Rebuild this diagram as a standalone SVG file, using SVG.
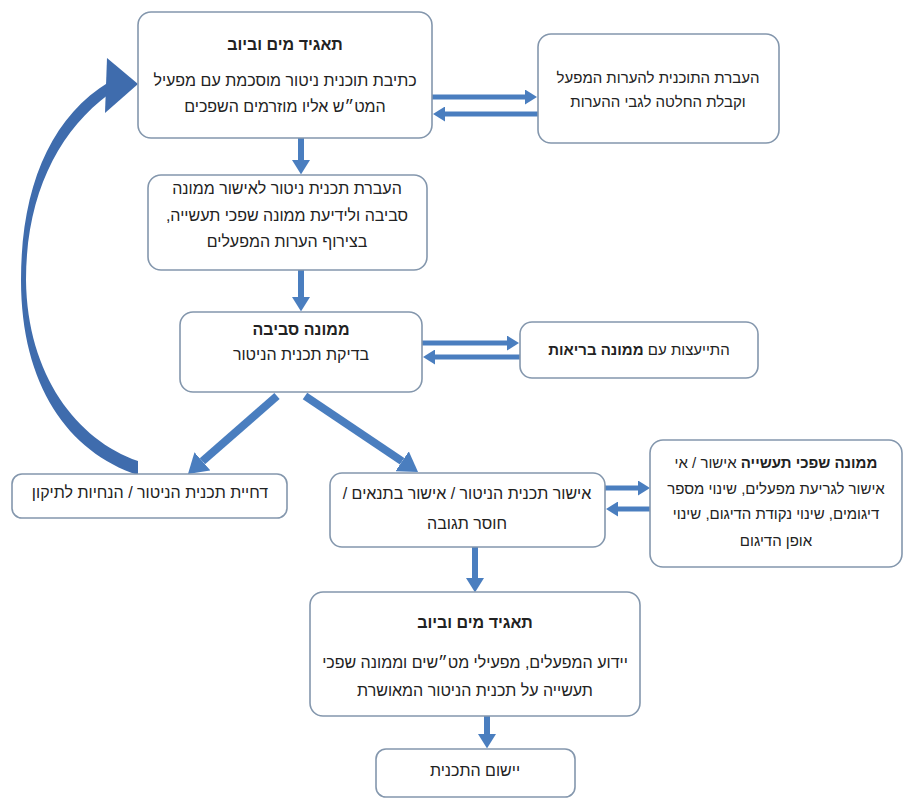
<svg xmlns="http://www.w3.org/2000/svg" width="906" height="800" viewBox="0 0 906 800">
<style>
.box{fill:#ffffff;stroke:#8497ad;stroke-width:1.6}
text{font-family:"Liberation Sans","DejaVu Sans",sans-serif;font-size:16px;fill:#222;text-anchor:middle}
.s{font-size:15px}
.t{font-weight:bold}
.b{font-weight:bold}
.arr{stroke:#4a7ebf;fill:none}
</style>
<defs>
<marker id="ah" viewBox="0 0 10 10" refX="0" refY="5" markerWidth="2.4" markerHeight="3" preserveAspectRatio="none" orient="auto">
<path d="M0,0 L10,5 L0,10 z" fill="#4a7ebf"/>
</marker>
</defs>
<g id="connectors">
<line class="arr" stroke-width="6" x1="301" y1="138" x2="301" y2="160" marker-end="url(#ah)"/>
<line class="arr" stroke-width="6" x1="301" y1="270" x2="301" y2="297" marker-end="url(#ah)"/>
<line class="arr" stroke-width="6" x1="475" y1="547" x2="475" y2="578" marker-end="url(#ah)"/>
<line class="arr" stroke-width="6" x1="487" y1="716" x2="487" y2="734" marker-end="url(#ah)"/>
<line class="arr" stroke-width="5" x1="432" y1="97" x2="525" y2="97" marker-end="url(#ah)"/>
<line class="arr" stroke-width="5" x1="538" y1="114" x2="445" y2="114" marker-end="url(#ah)"/>
<line class="arr" stroke-width="5" x1="422" y1="343" x2="507" y2="343" marker-end="url(#ah)"/>
<line class="arr" stroke-width="5" x1="520" y1="357" x2="435" y2="357" marker-end="url(#ah)"/>
<line class="arr" stroke-width="5" x1="605" y1="488" x2="638" y2="488" marker-end="url(#ah)"/>
<line class="arr" stroke-width="5" x1="650" y1="509" x2="618" y2="509" marker-end="url(#ah)"/>
<line class="arr" stroke-width="8" x1="277" y1="396" x2="202.4" y2="461.3" marker-end="url(#ah)"/>
<line class="arr" stroke-width="8" x1="305" y1="396" x2="402.1" y2="461.3" marker-end="url(#ah)"/>
<path d="M109,82 C50,118 21,188 21,280 C21,385 68,452 138,475 L138,461 C77,440 27,375 26,280 C26,195 58,132 109,94 Z" fill="#3f6cad"/>
<path d="M107,58 L138,84 L105,113 Z" fill="#3f6cad"/>
</g>
<g id="n1">
<rect class="box" x="138" y="12" width="294" height="126" rx="13"/>
<text class="t" x="285" y="50" direction="rtl">תאגיד מים וביוב</text>
<text x="285" y="86" direction="rtl">כתיבת תוכנית ניטור מוסכמת עם מפעיל</text>
<text x="285" y="112" direction="rtl">המט״ש אליו מוזרמים השפכים</text>
</g>
<g id="n2">
<rect class="box" x="538" y="34" width="241" height="109" rx="13"/>
<text class="s" x="658" y="83" direction="rtl">העברת התוכנית להערות המפעל</text>
<text class="s" x="658" y="107" direction="rtl">וקבלת החלטה לגבי ההערות</text>
</g>
<g id="n3">
<rect class="box" x="148" y="175" width="279" height="95" rx="13"/>
<text x="287" y="194" direction="rtl">העברת תכנית ניטור לאישור ממונה</text>
<text x="287" y="221" direction="rtl">סביבה ולידיעת ממונה שפכי תעשייה,</text>
<text x="287" y="247" direction="rtl">בצירוף הערות המפעלים</text>
</g>
<g id="n4">
<rect class="box" x="180" y="312" width="242" height="80" rx="13"/>
<text class="t" x="301" y="335" direction="rtl">ממונה סביבה</text>
<text x="301" y="360" direction="rtl">בדיקת תכנית הניטור</text>
</g>
<g id="n5">
<rect class="box" x="520" y="322" width="238" height="56" rx="12"/>
<text class="s" x="639" y="355" direction="rtl">התייעצות עם <tspan class="b">ממונה בריאות</tspan></text>
</g>
<g id="n6">
<rect class="box" x="12" y="474" width="275" height="44" rx="10"/>
<text x="150" y="498" direction="rtl">דחיית תכנית הניטור / הנחיות לתיקון</text>
</g>
<g id="n7">
<rect class="box" x="330" y="473" width="275" height="74" rx="12"/>
<text x="467" y="499" direction="rtl">אישור תכנית הניטור / אישור בתנאים /</text>
<text x="467" y="529" direction="rtl">חוסר תגובה</text>
</g>
<g id="n8">
<rect class="box" x="650" y="440" width="252" height="127" rx="13"/>
<text class="s" x="776" y="468" direction="rtl"><tspan class="b">ממונה שפכי תעשייה</tspan>  אישור / אי</text>
<text class="s" x="776" y="494" direction="rtl">אישור לגריעת מפעלים, שינוי מספר</text>
<text class="s" x="776" y="519" direction="rtl">דיגומים, שינוי נקודת הדיגום, שינוי</text>
<text class="s" x="776" y="546" direction="rtl">אופן הדיגום</text>
</g>
<g id="n9">
<rect class="box" x="310" y="592" width="330" height="124" rx="13"/>
<text class="t" x="475" y="628" direction="rtl">תאגיד מים וביוב</text>
<text x="475" y="668" direction="rtl">יידוע המפעלים, מפעילי מט״שים וממונה שפכי</text>
<text x="475" y="696" direction="rtl">תעשייה על תכנית הניטור המאושרת</text>
</g>
<g id="n10">
<rect class="box" x="376" y="749" width="199" height="48" rx="10"/>
<text x="475" y="776" direction="rtl">יישום התכנית</text>
</g>
</svg>
